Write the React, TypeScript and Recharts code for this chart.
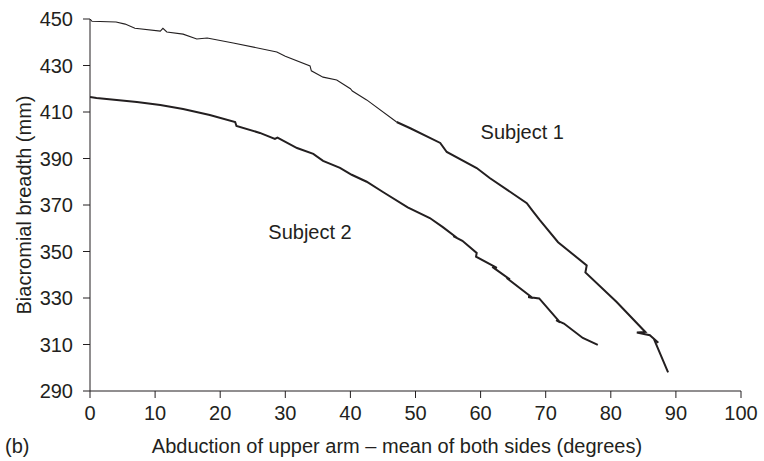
import { LineChart, Line, XAxis, YAxis, ReferenceDot } from "recharts"

// Subject 1 – thin start, heavier trace after ~47 deg
const s1ThinX = [0, 0.3, 4, 5.4, 6.9, 10.8, 11.2, 11.8, 14.3, 16.4, 18, 22, 28.7, 30, 33.8, 34, 35.8, 37.9, 40, 40.3, 42.5, 47.1]
const s1ThinY = [450, 449, 448.7, 447.8, 446, 444.8, 446, 444.4, 443.5, 441.4, 441.8, 439.7, 435.8, 434, 429.8, 427.7, 425, 423.8, 420, 419, 415.2, 405.7]
const s1ThickX = [47.1, 49.2, 53.8, 54.8, 59.4, 61.4, 67.1, 67.9, 69.1, 71.9, 76.3, 76.1, 80.9, 85.3, 84, 86, 87.3, 86.6, 88.8]
const s1ThickY = [405.7, 403, 396.7, 392.8, 385.9, 381.6, 370.8, 367.8, 363.5, 354, 344, 341, 328.3, 315.4, 315.2, 314, 310.8, 312.5, 298]

// Subject 2
const s2X = [0, 1, 7.2, 10.8, 14.3, 18.4, 22.3, 22.5, 26.1, 28.4, 28.8, 31.8, 34.3, 35.8, 38.4, 40.2, 42.5, 45, 48.8, 52.2, 54.2, 56.4, 55.8, 57.2, 59.4, 59.3, 62.5, 61.8, 64.5, 64, 68, 67.3, 69, 72.2, 71.6, 72.8, 75.7, 78]
const s2Y = [416.5, 416, 414.3, 413, 411.3, 408.7, 405.7, 404, 401, 398.4, 399, 394.5, 392, 389, 386, 383, 380, 375.6, 369, 364.4, 360.5, 355.8, 356.6, 354.6, 349.4, 347.8, 343, 343.4, 338, 338.6, 330, 330.4, 329.8, 319.5, 320.5, 319, 312.8, 309.8]

const xTicks = [0, 10, 20, 30, 40, 50, 60, 70, 80, 90, 100]
const yTicks = [290, 310, 330, 350, 370, 390, 410, 430, 450]

const toPoints = (xs: number[], ys: number[]) => xs.map((x, i) => ({ x, y: ys[i] }))

const ink = "#231f20"
const font = "'Liberation Sans', Arial, sans-serif"

const XTitle = (props: any) => {
  const { viewBox } = props
  const y = viewBox.y + viewBox.height - 8
  return (
    <g fontFamily={font} fontSize={20} fill={ink}>
      <text x={397} y={y} textAnchor="middle">
        Abduction of upper arm – mean of both sides (degrees)
      </text>
      <text x={5} y={y}>(b)</text>
    </g>
  )
}

const YTitle = (props: any) => {
  const { viewBox } = props
  const cy = viewBox.y + viewBox.height / 2
  return (
    <text
      x={31}
      y={cy}
      transform={`rotate(-90, 31, ${cy})`}
      textAnchor="middle"
      fontFamily={font}
      fontSize={20}
      fill={ink}
    >
      Biacromial breadth (mm)
    </text>
  )
}

export default function App() {
  return (
    <div style={{ position: "absolute", left: 0, top: 0, background: "#fff" }}>
      <LineChart width={764} height={461} margin={{ top: 19, right: 23, bottom: 0, left: 0 }}>
        <XAxis
          type="number"
          dataKey="x"
          domain={[0, 100]}
          ticks={xTicks}
          allowDataOverflow
          height={70}
          stroke={ink}
          tickSize={7}
          tickMargin={8}
          tick={{ fill: ink, fontSize: 20, fontFamily: font }}
          label={<XTitle />}
        />
        <YAxis
          type="number"
          dataKey="y"
          domain={[290, 450]}
          ticks={yTicks}
          allowDataOverflow
          width={90}
          stroke={ink}
          tickSize={7}
          tickMargin={10}
          tick={{ fill: ink, fontSize: 20, fontFamily: font }}
          label={<YTitle />}
        />
        <Line
          data={toPoints(s1ThinX, s1ThinY)}
          dataKey="y"
          type="linear"
          stroke={ink}
          strokeWidth={1.1}
          dot={false}
          isAnimationActive={false}
        />
        <Line
          data={toPoints(s1ThickX, s1ThickY)}
          dataKey="y"
          type="linear"
          stroke={ink}
          strokeWidth={2}
          dot={false}
          isAnimationActive={false}
        />
        <Line
          data={toPoints(s2X, s2Y)}
          dataKey="y"
          type="linear"
          stroke={ink}
          strokeWidth={2}
          dot={false}
          isAnimationActive={false}
        />
        <ReferenceDot
          x={66.4}
          y={401.4}
          r={0}
          fill="none"
          stroke="none"
          label={{ value: "Subject 1", position: "center", fill: ink, fontSize: 20, fontFamily: font }}
        />
        <ReferenceDot
          x={33.8}
          y={358.4}
          r={0}
          fill="none"
          stroke="none"
          label={{ value: "Subject 2", position: "center", fill: ink, fontSize: 20, fontFamily: font }}
        />
      </LineChart>
    </div>
  )
}
